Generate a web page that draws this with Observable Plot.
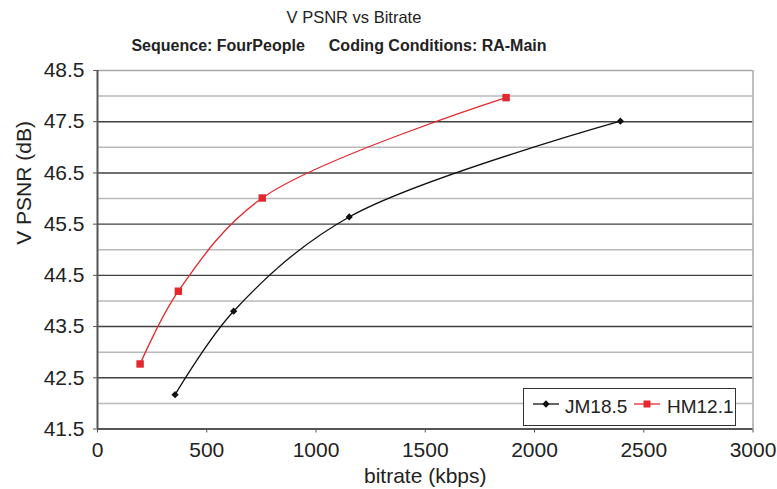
<!DOCTYPE html>
<html>
<head>
<meta charset="utf-8">
<script src="https://cdn.jsdelivr.net/npm/d3@7"></script>
<script src="https://cdn.jsdelivr.net/npm/@observablehq/plot@0.6"></script>
<style>
  html, body { margin: 0; padding: 0; background: #fff; }
  #page { position: relative; width: 777px; height: 489px; overflow: hidden; font-family: "Liberation Sans", Arial, sans-serif; color: #222; }
  #header { position: relative; height: 56px; }
  .t1 { position: absolute; left: 0; width: 708px; top: 7px; text-align: center; font-size: 16.5px; line-height: 20px; }
  .t2 { position: absolute; left: 0; width: 678px; top: 36px; text-align: center; font-size: 16px; font-weight: bold; line-height: 20px; white-space: pre; }
  .t2 span + span { margin-left: 24px; }
  #legend { position: absolute; left: 523px; top: 388px; width: 211px; height: 36px; border: 1px solid #333; background: #fff; box-sizing: content-box; font-size: 19px; }
  #legend svg { position: absolute; left: 0; top: 0; }
  #legend .lab { position: absolute; top: 7px; line-height: 22px; }
</style>
</head>
<body>
<div id="page">
  <div id="header">
    <div class="t1" id="title"></div>
    <div class="t2" id="subtitle"></div>
  </div>
  <div id="chart"></div>
  <div id="legend"></div>
</div>
<script>
// ---- data ----
const seriesNames = ["JM18.5", "HM12.1"];
const jmBitrate = [355, 623, 1152, 2393];
const jmPsnr = [42.17, 43.80, 45.64, 47.51];
const hmBitrate = [195, 370, 754, 1870];
const hmPsnr = [42.77, 44.19, 46.01, 47.97];
const xTicks = [0, 500, 1000, 1500, 2000, 2500, 3000];
const yTicks = [41.5, 42.5, 43.5, 44.5, 45.5, 46.5, 47.5, 48.5];
const yMinorGrid = [42, 43, 44, 45, 46, 47, 48];
const titleText = "V PSNR vs Bitrate";
const subtitleParts = ["Sequence: FourPeople", "Coding Conditions: RA-Main"];
const xLabel = "bitrate (kbps)";
const yLabel = "V PSNR (dB)";
const colors = ["#111111", "#e3292e"];

document.getElementById("title").textContent = titleText;
document.getElementById("subtitle").innerHTML = subtitleParts.map(s => `<span>${s}</span>`).join("");

const jm = jmBitrate.map((x, i) => ({x, y: jmPsnr[i]}));
const hm = hmBitrate.map((x, i) => ({x, y: hmPsnr[i]}));
const majorGrid = yTicks.slice(1, -1);

const chart = Plot.plot({
  width: 777,
  height: 433,
  marginTop: 14,
  marginBottom: 60.5,
  marginLeft: 97,
  marginRight: 24.5,
  style: {fontFamily: "Liberation Sans, Arial, sans-serif", fontSize: "21px", color: "#222", background: "white", overflow: "visible"},
  x: {domain: [0, 3000]},
  y: {domain: [41.5, 48.5]},
  marks: [
    Plot.ruleY(yMinorGrid, {stroke: "#b9b9b9", strokeWidth: 1.5}),
    Plot.ruleY(majorGrid, {stroke: "#404040", strokeWidth: 1.4}),
    Plot.ruleY([48.5], {stroke: "#a8a8a8", strokeWidth: 1.5}),
    Plot.ruleX([3000], {stroke: "#a8a8a8", strokeWidth: 1.5}),
    Plot.ruleX([0], {stroke: "#555", strokeWidth: 2}),
    Plot.ruleY([41.5], {stroke: "#555", strokeWidth: 2}),
    Plot.axisX({ticks: xTicks, tickSize: 4, tickPadding: 9, label: null, stroke: "#555", fill: "#222", tickFormat: d3.format("d")}),
    Plot.axisY({ticks: yTicks, tickSize: 4, tickPadding: 9, label: null, stroke: "#555", fill: "#222", tickFormat: d3.format(".1f")}),
    Plot.line(jm, {x: "x", y: "y", stroke: colors[0], strokeWidth: 1.3, curve: "catmull-rom"}),
    Plot.line(hm, {x: "x", y: "y", stroke: colors[1], strokeWidth: 1.3, curve: "catmull-rom"}),
    Plot.dot(jm, {x: "x", y: "y", symbol: "square", rotate: 45, r: 2.9, fill: colors[0], stroke: "none"}),
    Plot.dot(hm, {x: "x", y: "y", symbol: "square", r: 4.2, fill: colors[1], stroke: "none"}),
    Plot.text([xLabel], {text: d => d, frameAnchor: "bottom", lineAnchor: "top", dy: 39.5, fontSize: 21, fill: "#222"}),
    Plot.text([yLabel], {text: d => d, frameAnchor: "left", rotate: -90, dx: -73, dy: -5, fontSize: 21, fill: "#222"})
  ]
});
document.getElementById("chart").appendChild(chart);

// legend
const legend = document.getElementById("legend");
const swatchSvg = `<svg width="211" height="36">
  <line x1="9" x2="35" y1="15" y2="15" stroke="${colors[0]}" stroke-width="1.3"/>
  <path d="M22,11.3 L25.7,15 L22,18.7 L18.3,15 Z" fill="${colors[0]}"/>
  <line x1="110" x2="136" y1="15" y2="15" stroke="${colors[1]}" stroke-width="1.3"/>
  <rect x="119.5" y="11.5" width="7" height="7" fill="${colors[1]}"/>
</svg>`;
legend.innerHTML = swatchSvg +
  `<div class="lab" style="left:41px">${seriesNames[0]}</div>` +
  `<div class="lab" style="left:143px">${seriesNames[1]}</div>`;
</script>
</body>
</html>
